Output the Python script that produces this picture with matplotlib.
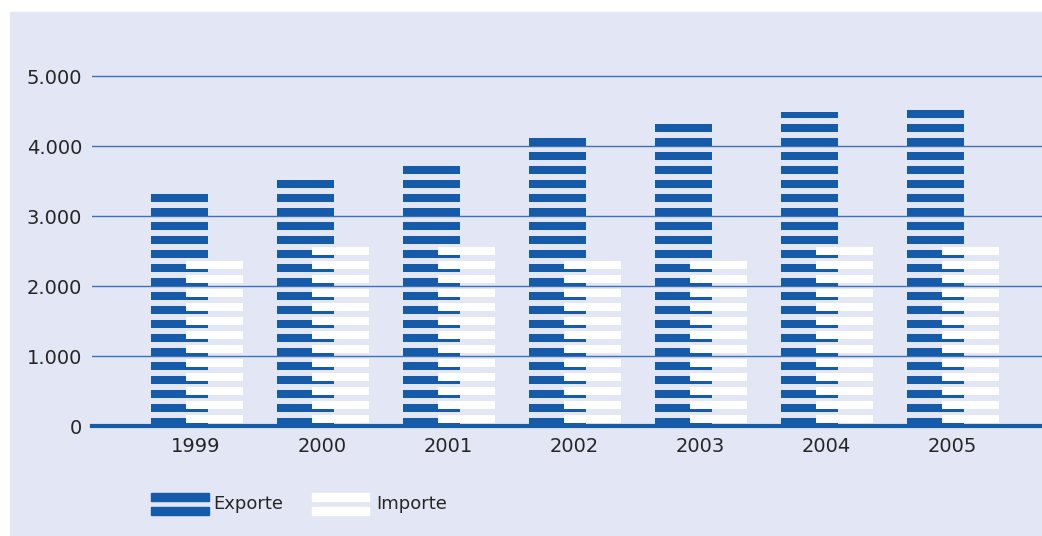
import matplotlib.pyplot as plt
from matplotlib.patches import Rectangle

# data
years = ['1999', '2000', '2001', '2002', '2003', '2004', '2005']
exporte = [3320, 3520, 3720, 4120, 4320, 4480, 4520]
importe = [2360, 2560, 2560, 2360, 2360, 2560, 2560]
yticks = [0, 1000, 2000, 3000, 4000, 5000]
ytick_labels = ['0', '1.000', '2.000', '3.000', '4.000', '5.000']

blue = '#165baa'
bg = '#e3e6f4'
grid_c = '#3f70b8'
txt = '#262626'

W, H = 1042, 536


def stripes(value, offset, period=200, fill=120):
    """split a bar into horizontal stripes (lo, hi) clipped at value"""
    out = []
    lo = offset
    while lo < value:
        hi = min(lo + fill, value)
        out.append((lo, hi))
        lo += period
    return out


fig = plt.figure(figsize=(W / 100, H / 100), dpi=100)
fig.patch.set_facecolor('white')
fig.patches.append(Rectangle((10 / W, 0), 1 - 10 / W, (H - 12) / H,
                             transform=fig.transFigure, color=bg, zorder=-10))

ax = fig.add_axes([92 / W, (H - 426) / H, (W - 92) / W, 364 / H])
ax.patch.set_visible(False)
ax.set_xlim(-0.825, 6.714)
ax.set_ylim(0, 5200)
for s in ax.spines.values():
    s.set_visible(False)

for y in yticks[1:]:
    ax.axhline(y, color=grid_c, lw=1.0, zorder=1)
ax.axhline(0, color=blue, lw=3, zorder=5, clip_on=False)

w = 0.455
for i in range(len(years)):
    for lo, hi in stripes(exporte[i], 0):
        ax.bar(i - 0.13, hi - lo, bottom=lo, width=w, color=blue, zorder=2)
    for lo, hi in stripes(importe[i], 40):
        ax.bar(i + 0.147, hi - lo, bottom=lo, width=w, color='white', zorder=3)

ax.set_yticks(yticks)
ax.set_yticklabels(ytick_labels)
ax.set_xticks(range(len(years)))
ax.set_xticklabels(years)
ax.tick_params(length=0, labelsize=14, colors=txt)
ax.tick_params(axis='y', pad=7)
ax.tick_params(axis='x', pad=8)

# legend
def px_rect(x0, y0, x1, y1, color):
    fig.patches.append(Rectangle((x0 / W, 1 - y1 / H), (x1 - x0) / W, (y1 - y0) / H,
                                 transform=fig.transFigure, color=color, zorder=2))

px_rect(151, 493.3, 209, 500.7, blue)
px_rect(151, 506.7, 209, 514.7, blue)
px_rect(312, 493.3, 369, 500.7, 'white')
px_rect(312, 506.7, 369, 514.7, 'white')
fig.text(213 / W, 1 - 504 / H, 'Exporte', fontsize=13, color=txt, va='center')
fig.text(376 / W, 1 - 504 / H, 'Importe', fontsize=13, color=txt, va='center')

plt.savefig('out.png', dpi=100)
